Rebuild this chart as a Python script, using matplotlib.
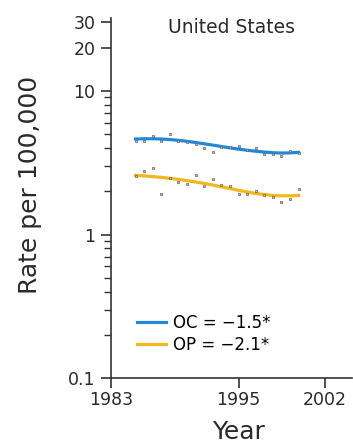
import numpy as np
import matplotlib
matplotlib.use('Agg')
import matplotlib.pyplot as plt
from matplotlib.ticker import FixedLocator, NullFormatter

plt.rcParams['font.family'] = ['DejaVu Sans']

# data (rate per 100,000)
years = np.arange(1983, 2003)
oc_obs = [4.51, 4.44, 4.83, 4.44, 4.97, 4.46, 4.39, 4.28, 4.01, 3.74,
          4.05, 4.05, 4.12, 3.88, 3.97, 3.64, 3.64, 3.51, 3.84, 3.72]
op_obs = [2.57, 2.76, 2.91, 1.90, 2.48, 2.33, 2.26, 2.59, 2.17, 2.45,
          2.22, 2.17, 1.90, 1.93, 2.02, 1.89, 1.83, 1.69, 1.78, 2.08]
oc_fit = [4.62, 4.64, 4.64, 4.62, 4.58, 4.52, 4.45, 4.37, 4.28, 4.19,
          4.10, 4.01, 3.93, 3.86, 3.80, 3.75, 3.71, 3.69, 3.70, 3.73]
op_fit = [2.58, 2.56, 2.53, 2.50, 2.46, 2.42, 2.37, 2.32, 2.27, 2.21,
          2.15, 2.09, 2.03, 1.98, 1.93, 1.90, 1.87, 1.86, 1.86, 1.87]
labels = ['OC = \u22121.5*', 'OP = \u22122.1*']
xtick_pos = [1980.1, 1995, 2005.1]
xtick_labels = ['1983', '1995', '2002']
ytick_major = [0.1, 1, 10, 20, 30]
ytick_labels = ['0.1', '1', '10', '20', '30']

blue = '#2288d6'
yellow = '#f3b71e'
axcol = '#333333'
txtcol = '#2a2a2a'

fig = plt.figure(figsize=(3.53, 4.44), dpi=100)
ax = fig.add_axes([0.3136, 0.148, 0.683, 0.811])

ax.plot(years, oc_fit, color=blue, lw=2.3, label=labels[0], zorder=2)
ax.plot(years, op_fit, color=yellow, lw=2.3, label=labels[1], zorder=2)
ax.plot(years, oc_obs, ls='none', marker='s', ms=2.0, mfc='#b8c0c8',
        mec='#5a6470', mew=0.5, zorder=3)
ax.plot(years, op_obs, ls='none', marker='s', ms=2.0, mfc='#cfc6a4',
        mec='#6a6248', mew=0.5, zorder=3)

ax.set_yscale('log')
ax.set_ylim(0.1, 32)
ax.set_xlim(1980.1, 2008.2)

ax.yaxis.set_major_locator(FixedLocator(ytick_major))
ax.set_yticklabels(ytick_labels)
minors = [m * d for d in (0.1, 1) for m in range(2, 10)]
ax.yaxis.set_minor_locator(FixedLocator(minors))
ax.yaxis.set_minor_formatter(NullFormatter())
ax.set_xticks(xtick_pos)
ax.set_xticklabels(xtick_labels)

for s in ['top', 'right']:
    ax.spines[s].set_visible(False)
for s in ['left', 'bottom']:
    ax.spines[s].set_color(axcol)
    ax.spines[s].set_linewidth(1.2)
ax.tick_params(axis='y', which='major', length=7, width=1.2, color=axcol,
               labelsize=12.5, labelcolor=txtcol, pad=4)
ax.tick_params(axis='x', which='major', length=7, width=1.2, color=axcol,
               labelsize=12.5, labelcolor=txtcol, pad=2)
ax.tick_params(which='minor', length=5, width=1.0, color=axcol)

ax.set_ylabel('Rate per 100,000', fontsize=18, color=txtcol)
ax.yaxis.set_label_coords(-0.285, 0.537)
ax.set_xlabel('Year', fontsize=18, color=txtcol)
ax.xaxis.set_label_coords(0.532, -0.115)
ax.set_title('United States', fontsize=13.5, color=txtcol, y=0.935)

ax.legend(loc='lower left', bbox_to_anchor=(0.08, 0.05), frameon=False,
          fontsize=12, handlelength=1.75, handletextpad=0.45,
          labelspacing=0.2, borderaxespad=0)

fig.savefig('out.png', dpi=100)
